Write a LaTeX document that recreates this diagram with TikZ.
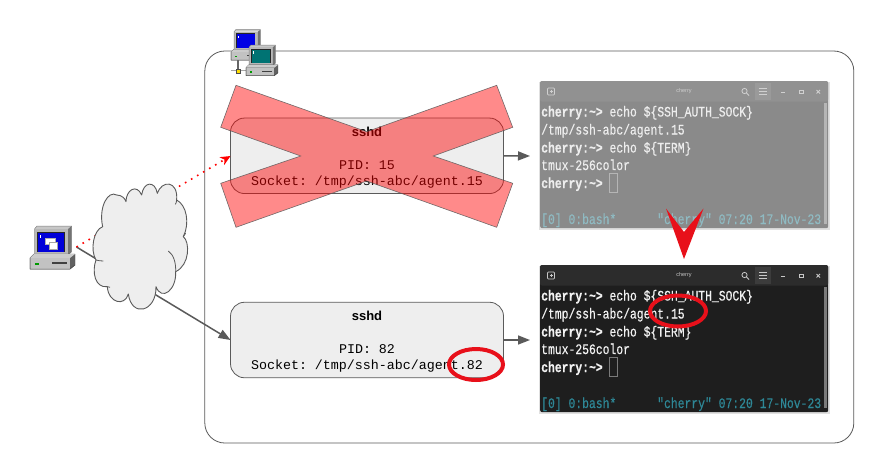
\documentclass[tikz,border=0pt]{standalone}
\usepackage{fontspec}
\setmainfont{Liberation Sans}
\newfontfamily\boxmono{Liberation Mono}
\newfontfamily\termmono[FakeStretch=0.785,FakeBold=0.4,BoldFeatures={FakeBold=0.5}]{Liberation Mono}
\usetikzlibrary{arrows.meta,shapes.geometric}
\definecolor{edge}{HTML}{5A5A5A}
\definecolor{boxfill}{HTML}{EEEEEE}
\definecolor{alarm}{HTML}{E8101A}
\definecolor{oldbody}{HTML}{8A8A8A}
\definecolor{oldtitle}{HTML}{919191}
\definecolor{oldbtn}{HTML}{9A9A9A}
\definecolor{oldtext}{HTML}{EDEDED}
\definecolor{oldicon}{HTML}{D0D0D0}
\definecolor{oldstatus}{HTML}{8FBAC2}
\definecolor{oldbar}{HTML}{B5B5B5}
\definecolor{newbody}{HTML}{1E1E1E}
\definecolor{newtitle}{HTML}{2C2C2C}
\definecolor{newbtn}{HTML}{3C3C3C}
\definecolor{newtext}{HTML}{F2F2F2}
\definecolor{newicon}{HTML}{C8C8C8}
\definecolor{newstatus}{HTML}{2E8796}
\definecolor{newbar}{HTML}{7A7A7A}
\tikzset{
  x=1pt,y=-1pt,
  sshdbox/.style={draw=edge,fill=boxfill,rounded corners=14pt,line width=.8pt,minimum width=273pt,minimum height=75.5pt,inner sep=0pt,align=center,
    font=\frenchspacing\fontsize{13.33}{16.3}\selectfont\boxmono},
  link/.style={draw=edge,line width=1.5pt,-{Triangle[length=12pt,width=9pt]}},
  dotlink/.style={draw=red,line width=1.6pt,dash pattern=on 1.6pt off 5.4pt,-{Stealth[length=10pt,width=9pt,inset=3pt]}},
  termline/.style={anchor=base west,inner sep=0pt,font=\frenchspacing\fontsize{14.5}{18}\selectfont\termmono},
  ring/.style={draw=alarm,line width=4pt,ellipse,inner sep=0pt},
}
\newcommand{\pcicon}[4]{% x y scale screen
\begin{scope}[shift={(#1,#2)},scale=#3]
  \fill[black!22] (7,0)--(41.5,0)--(38,3)--(4.5,3)--cycle;
  \fill[black!28] (4.5,3) rectangle (38,29.5);
  \fill[black!55] (38,3)--(41.5,0)--(41.5,26)--(38,29.5)--cycle;
  \draw[black!50,line width=.5pt] (4.5,29.5)--(4.5,3)--(7,0)--(41.5,0)--(41.5,26);
  \fill[black!85] (7,5.5) rectangle (34.5,26);
  \fill[#4] (8,6.5) rectangle (34,25.5);
  \fill[white] (10.2,9) rectangle (11.2,12);
  \fill[black!62,draw=black!70,line width=.4pt] (0,32)--(4,28)--(45,28)--(45,39)--(40,43)--(0,43)--cycle;
  \fill[black!20] (0,32)--(4,28)--(45,28)--(40,32)--cycle;
  \fill[black!24] (0,32) rectangle (40,43);
  \draw[black!70,line width=.5pt] (0,32)--(0,43)--(40,43)--(45,39);
  \fill[green!60!black] (5,37) rectangle (8.5,38.8);
  \fill[black!75] (22,36.2) rectangle (37,37.6);
\end{scope}}
\newcommand{\termwin}[2]{% name y ; colours from prefix name
\node[fill=#1body,minimum width=288pt,minimum height=147pt,inner sep=0pt,anchor=north west,rounded corners=2pt] (#1win) at (540,#2) {};
\begin{scope}[shift={(0,#2)}]
  \fill[#1title,rounded corners=2pt] (540,0) rectangle (828,20.5);
  \fill[#1btn] (755,1.5) rectangle (771,19);
  \node[inner sep=0pt,text=#1icon,font=\fontsize{5.5}{6}\selectfont] (#1name) at (684,10.5) {cherry};
  \draw[#1icon,line width=.7pt,rounded corners=.8pt] (547.5,7) rectangle (554.5,14);
  \draw[#1icon,line width=.6pt] (549.5,10.5)--(552.5,10.5) (551,9)--(551,12);
  \draw[#1icon,line width=.8pt] (744.5,10) circle (2.6pt) (746.5,12)--(749,14.5);
  \draw[#1icon,line width=.8pt] (759,7.5)--(767,7.5) (759,10.5)--(767,10.5) (759,13.5)--(767,13.5);
  \draw[#1icon,line width=.8pt] (781,11.5)--(785,11.5);
  \draw[#1icon,line width=.8pt] (799.5,9)rectangle(803,12.5);
  \draw[#1icon,line width=.8pt] (816.5,9)--(820,12.5) (816.5,12.5)--(820,9);
  \fill[#1bar] (823.5,22) rectangle (826.5,143);
  \draw[#1bar,line width=.7pt] (609.5,92) rectangle (617,111);
  \node[termline,text=#1text] (#1a) at (541,35.5) {\textbf{cherry:\textasciitilde>} echo \$\{SSH\_AUTH\_SOCK\}};
  \node[termline,text=#1text] (#1b) at (541,53.5) {/tmp/ssh-abc/agent.15};
  \node[termline,text=#1text] (#1c) at (541,71.5) {\textbf{cherry:\textasciitilde>} echo \$\{TERM\}};
  \node[termline,text=#1text] (#1d) at (541,89) {tmux-256color};
  \node[termline,text=#1text] (#1e) at (541,107) {\textbf{cherry:\textasciitilde>}};
  \node[termline,text=#1status] (#1f) at (541,143) {[0] 0:bash*};
  \node[termline,text=#1status] (#1g) at (657,143) {"cherry" 07:20 17-Nov-23};
\end{scope}}
\begin{document}
\begin{tikzpicture}
\useasboundingbox (0,0) rectangle (882,472);
\fill[white] (0,0) rectangle (882,472);
% host frame
\node[draw=edge,line width=.8pt,rounded corners=20pt,minimum width=649pt,minimum height=392pt,inner sep=0pt,anchor=north west] (host) at (204.4,50.6) {};
% sshd boxes
\node[sshdbox] (old) at (367,155.8) {\rule{0pt}{13.5pt}{\fontsize{13}{16.3}\selectfont\rmfamily\bfseries sshd}\\[0pt] \\PID: 15\\Socket: /tmp/ssh-abc/agent.15};
\node[sshdbox] (new) at (367,340) {\rule{0pt}{13.5pt}{\fontsize{13}{16.3}\selectfont\rmfamily\bfseries sshd}\\[0pt] \\PID: 82\\Socket: /tmp/ssh-abc/agent.82};
% terminals
\fill[black!12] (538.5,82) rectangle (829.5,229.5);
\fill[black!12] (538.5,266) rectangle (829.5,413.5);
\termwin{old}{81}
\termwin{new}{265}
% connectors
\coordinate (pcport) at (76.5,247);
\coordinate (oldin) at (230.5,156);
\coordinate (newin) at (230.5,340);
\coordinate (termoldin) at (530,156);
\coordinate (termnewin) at (530,340);
\draw[link] (pcport) -- (newin);
\draw[dotlink] (pcport) -- (oldin);
\draw[link] (old.east) -- (termoldin);
\draw[link] (new.east) -- (termnewin);
% cloud
\begin{scope}[shift={(20,170)},scale=.3333]
\draw[edge,fill=boxfill,line width=.9pt,line join=round]
 (248,170) .. controls (235,110) and (265,60) .. (290,75) .. controls (305,75) and (315,85) .. (318,95)
 .. controls (318,60) and (350,40) .. (365,75)
 .. controls (370,35) and (405,30) .. (412,70)
 .. controls (425,30) and (475,30) .. (470,90)
 .. controls (500,105) and (510,160) .. (490,200)
 .. controls (510,215) and (510,285) .. (467,305)
 .. controls (470,360) and (425,395) .. (408,350)
 .. controls (410,425) and (335,445) .. (325,372)
 .. controls (315,410) and (265,400) .. (262,350)
 .. controls (225,355) and (215,305) .. (228,270)
 .. controls (210,240) and (220,180) .. (248,170) -- cycle;
\draw[edge,line width=.8pt] (445,243) .. controls (462,255) and (468,280) .. (467,305)
 (228,270) .. controls (235,272) and (243,273) .. (250,273)
 (490,200) -- (497,190) (470,90) .. controls (470,95) and (468,100) .. (466,103)
 (262,350) -- (270,352);
\end{scope}
% computers
\pcicon{30}{226}{1}{blue!85!black}
\fill[white,draw=black!30,line width=.3pt] (45,238) rectangle (55,244);
\draw[black!35,fill=white,line width=.3pt] (49,242) rectangle (57,249);
\pcicon{231}{29.5}{.71}{blue!90!black}
\draw[black!60,line width=1.2pt] (238,60)--(238,71);
\draw[black!35,line width=1.4pt] (231,70.5)--(250,70.5);
\fill[yellow!80!orange,draw=black!70,line width=.4pt] (235.7,68.7) rectangle (240,73.3);
\pcicon{246}{45}{.71}{teal!90!black}
% red cross
\fill[red,opacity=.46] (236,85.3)--(220.7,127.3)--(300.7,156)--(220.7,183.3)--(236,227.3)--(366.7,181)--(496.7,227.3)--(512.7,183.3)--(433.3,156)--(512.7,127.3)--(496.7,85.3)--(366.7,131.7)--cycle;
\draw[edge,line width=.6pt,opacity=.85] (236,85.3)--(220.7,127.3)--(300.7,156)--(220.7,183.3)--(236,227.3)--(366.7,181)--(496.7,227.3)--(512.7,183.3)--(433.3,156)--(512.7,127.3)--(496.7,85.3)--(366.7,131.7)--cycle;
% big arrow
\fill[alarm] (666,208.5)--(684,232)--(703.5,208.5)--(684,259)--cycle;
% rings
\node[ring,minimum width=56pt,minimum height=31pt] (ringterm) at (678,311) {};
\node[ring,minimum width=54pt,minimum height=31pt] (ringbox) at (476,364.5) {};
\end{tikzpicture}
\end{document}
